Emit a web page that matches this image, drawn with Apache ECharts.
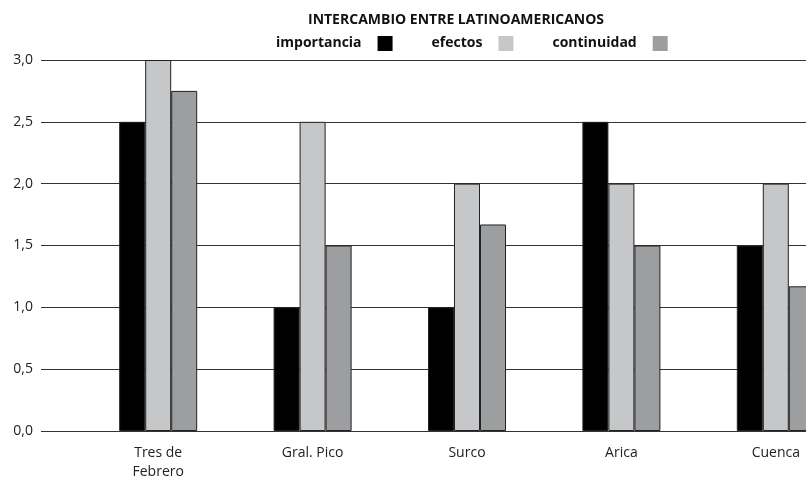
<!DOCTYPE html>
<html><head><meta charset="utf-8">
<script src="https://cdn.jsdelivr.net/npm/echarts@6/dist/echarts.min.js"></script>
<style>html,body{margin:0;padding:0;background:#fff}#c{width:806px;height:480px}</style>
</head><body><div id="c"></div>
<script>
const categories = ['Tres de\nFebrero', 'Gral. Pico', 'Surco', 'Arica', 'Cuenca'];
const importancia = [2.5, 1.0, 1.0, 2.5, 1.5];
const efectos = [3.0, 2.5, 2.0, 2.0, 2.0];
const continuidad = [2.75, 1.5, 1.67, 1.5, 1.17];
const seriesNames = ['importancia', 'efectos', 'continuidad'];
const yTicks = { min: 0, max: 3, interval: 0.5 };

const colors = ['#000000', '#c6c7c9', '#9d9ea0'];
const font = '"Open Sans", "Noto Sans", sans-serif';
const chart = echarts.init(document.getElementById('c'), null, { renderer: 'canvas' });
const mk = (name, data, i) => ({
  name, type: 'bar', data, xAxisIndex: 1, yAxisIndex: 1,
  barWidth: 26, barGap: '0%',
  itemStyle: { color: colors[i], borderColor: '#222', borderWidth: 1 },
  animation: false
});
chart.setOption({
  animation: false,
  title: {
    text: 'INTERCAMBIO ENTRE LATINOAMERICANOS',
    left: 303, top: 8,
    textStyle: { fontFamily: font, fontSize: 14, fontWeight: 'bold', color: '#111' }
  },
  legend: {
    data: seriesNames, left: 271, top: 31, align: 'right',
    icon: 'rect', itemWidth: 15, itemHeight: 15, itemGap: 39,
    itemStyle: { borderWidth: 0 },
    textStyle: { fontFamily: font, fontSize: 14, fontWeight: 'bold', color: '#111', padding: [0, 11, 0, 0] }
  },
  grid: [
    { left: 41, width: 812, top: 60, bottom: 49, outerBoundsMode: 'none', containLabel: false },
    { left: 81, width: 772, top: 60, bottom: 49, outerBoundsMode: 'none', containLabel: false }
  ],
  xAxis: [
    { gridIndex: 0, type: 'value', show: false, min: 0, max: 1 },
    { gridIndex: 1, type: 'category', data: categories,
      axisLine: { show: false }, axisTick: { show: false },
      axisLabel: { margin: 13, fontFamily: font, fontSize: 14, color: '#222', lineHeight: 19 } }
  ],
  yAxis: [
    { gridIndex: 0, type: 'value', min: yTicks.min, max: yTicks.max, interval: yTicks.interval,
      axisLine: { show: false }, axisTick: { show: false },
      axisLabel: { margin: 8, fontFamily: font, fontSize: 14, color: '#222',
        formatter: v => v.toFixed(1).replace('.', ',') },
      splitLine: { show: true, lineStyle: { color: '#333', width: 1 } } },
    { gridIndex: 1, type: 'value', min: yTicks.min, max: yTicks.max, interval: yTicks.interval, show: false }
  ],
  series: [
    mk(seriesNames[0], importancia, 0),
    mk(seriesNames[1], efectos, 1),
    mk(seriesNames[2], continuidad, 2)
  ]
});
</script></body></html>
